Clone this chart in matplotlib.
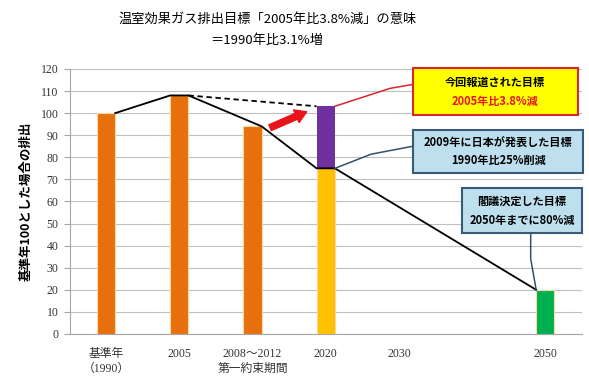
import matplotlib.pyplot as plt
from matplotlib.patches import Rectangle

plt.rcParams['font.family'] = ['Noto Sans CJK JP', 'DejaVu Sans']

# categories along the x axis (one empty slot between 2030 and 2050)
categories = ['基準年\n（1990）', '2005', '2008～2012\n第一約束期間', '2020', '2030', '', '2050']
bar_index = [0, 1, 2, 3, 6]
bar_values = [100, 108, 94, 75, 20]
bar_colors = ['#E8700C', '#E8700C', '#E8700C', '#FFC000', '#00B050']
# 2020 target reported now: 1990 ratio +3.1%
reported_2020 = 103.1

# solid path: actual emissions then targets
path_x = [0, 1, 1, 2, 3, 3, 6]
path_side = [1, -1, 1, 1, -1, 1, -1]
path_y = [100, 108, 108, 94, 75, 75, 20]

W = 0.25
HW = W / 2

fig = plt.figure(figsize=(5.89, 3.83), dpi=100)
ax = fig.add_axes([0.118, 0.128, 0.870, 0.692])

ax.bar(bar_index, bar_values, width=W, color=bar_colors, edgecolor='#FCD9A0', linewidth=0.8, zorder=3)
ax.bar(3, reported_2020 - 75, bottom=75, width=W, color='#7030A0', zorder=3)

ax.plot([x + s * HW for x, s in zip(path_x, path_side)], path_y, color='black', lw=1.3, zorder=4)
ax.plot([1 + HW, 3 - HW], [108, reported_2020], color='black', lw=1.3, ls=(0, (3, 2)), zorder=4)

# red arrow pointing from the 2008-2012 bar to the new 2020 target
ax.annotate('', xy=(3 - 0.26, 100.6), xytext=(2 + 0.24, 93.4),
            arrowprops=dict(arrowstyle='simple,head_length=0.9,head_width=1.1,tail_width=0.5',
                            color='#E8141C', shrinkA=0, shrinkB=0, mutation_scale=9),
            zorder=5)

ax.set_xlim(-0.5, 6.5)
ax.set_ylim(0, 120)
ax.set_yticks(range(0, 121, 10))
ax.set_xticks(range(len(categories)))
ax.set_xticklabels(categories, family=['Liberation Serif', 'Noto Sans CJK JP'], fontsize=8.5,
                   color='#333333', linespacing=1.3)
ax.set_yticklabels([str(v) for v in range(0, 121, 10)], family='Liberation Serif', fontsize=8.5,
                   color='#333333')
ax.tick_params(axis='x', length=0, pad=10)
ax.tick_params(axis='y', length=4, color='#A6A6A6', pad=4)
ax.grid(axis='y', color='#BFBFBF', lw=0.8, zorder=0)
for side in ['top', 'right']:
    ax.spines[side].set_visible(False)
ax.spines['left'].set_color('#A6A6A6')
ax.spines['bottom'].set_color('#A6A6A6')

ax.set_ylabel('基準年100とした場合の排出', fontsize=9, fontweight='bold', labelpad=6)

fig.text(0.455, 0.950, '温室効果ガス排出目標「2005年比3.8%減」の意味', ha='center', va='center', fontsize=9.5)
fig.text(0.452, 0.893, '＝1990年比3.1%増', ha='center', va='center', fontsize=9.5)


def callout(x0, x1, y0, y1, face, edge, lines, colors):
    ax.add_patch(Rectangle((x0, y0), x1 - x0, y1 - y0, facecolor=face, edgecolor=edge,
                           lw=1.5, clip_on=False, zorder=6))
    n = len(lines)
    for i, (txt, c) in enumerate(zip(lines, colors)):
        yy = y1 - (y1 - y0) * (i + 0.7) / (n + 0.4)
        ax.text((x0 + x1) / 2, yy, txt, ha='center', va='center', color=c, fontsize=8,
                fontweight='bold', zorder=7, clip_on=False)


# reported target
ax.plot([3 + HW, 3.88, 4.19], [reported_2020, 111.2, 113.0], color='#D9262E', lw=1.1, zorder=4)
callout(4.19, 6.44, 99.0, 120.2, '#FFFF00', '#D9262E',
        ['今回報道された目標', '2005年比3.8%減'], ['black', '#E8141C'])

# 2009 target
ax.plot([3 + HW, 3.62, 4.19], [75, 81.4, 85.0], color='#34506E', lw=1.1, zorder=4)
callout(4.19, 6.52, 72.8, 92.2, '#BEE0EE', '#3B5A78',
        ['2009年に日本が発表した目標', '1990年比25%削減'], ['black', 'black'])

# cabinet decision
ax.plot([5.80, 5.80, 6 - HW], [45.6, 34.0, 20], color='#34506E', lw=1.1, zorder=4)
callout(4.86, 6.50, 45.6, 66.0, '#BEE0EE', '#3B5A78',
        ['閣議決定した目標', '2050年までに80%減'], ['black', 'black'])

fig.savefig('out.png', dpi=100)
